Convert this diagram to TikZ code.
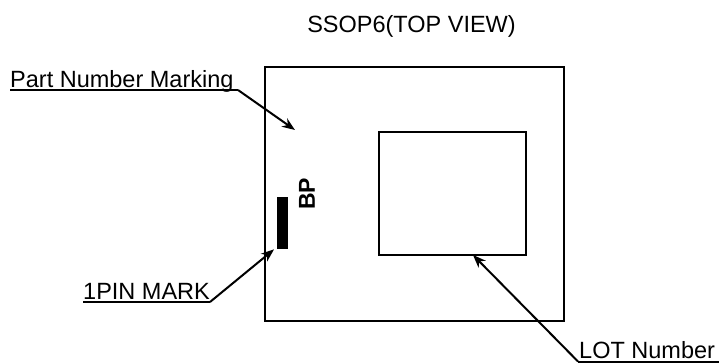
\documentclass[tikz,border=0pt]{standalone}
\usepackage{fontspec}
\setmainfont{Liberation Sans}
\usetikzlibrary{arrows.meta}
\begin{document}
\begin{tikzpicture}[x=1pt,y=-1pt,
  lbl/.style={font=\fontsize{23.5}{26}\selectfont, inner sep=0pt, anchor=base west},
  box/.style={draw, line width=2pt},
  leader/.style={line width=2pt, -{Stealth[length=13pt,width=10pt]}},
  uline/.style={line width=2pt}]
\useasboundingbox (0,0) rectangle (719,363);
\node[font=\fontsize{23.5}{26}\selectfont, inner sep=0pt, anchor=base] (title) at (411.5,33) {SSOP6(TOP VIEW)};
\node[box, minimum width=299pt, minimum height=254pt, inner sep=0pt, anchor=north west] (outer) at (264,66) {};
\node[box, line width=1.6pt, minimum width=147pt, minimum height=123pt, inner sep=0pt, anchor=north west] (inner) at (378,131) {};
\node[fill=black, minimum width=11pt, minimum height=52pt, inner sep=0pt, anchor=north west] (pin) at (277,197) {};
\node[font=\fontsize{23}{25}\bfseries\selectfont, rotate=90, inner sep=0pt] (bp) at (307,194) {BP};
% Part Number Marking
\node[lbl] (pnm) at (10,88) {Part Number Marking};
\coordinate (pnmL) at (10,90);
\coordinate (pnmR) at (238,90);
\coordinate (pnmT) at (295,130);
\draw[uline] (pnmL) -- (pnmR);
\draw[leader] (pnmR) -- (pnmT);
% 1PIN MARK
\node[lbl] (pinl) at (83,299) {1PIN MARK};
\coordinate (pinL) at (83,302);
\coordinate (pinR) at (210,302);
\coordinate (pinT) at (pin.south west);
\draw[uline] (pinL) -- (pinR);
\draw[leader] (pinR) -- ([xshift=-3pt]pinT);
% LOT Number
\node[lbl] (lot) at (579,358.5) {LOT Number};
\coordinate (lotL) at (578,361.5);
\coordinate (lotR) at (719,361.5);
\coordinate (lotT) at (473,255);
\draw[uline] (lotL) -- (lotR);
\draw[leader] (lotL) -- (lotT);
\end{tikzpicture}
\end{document}
